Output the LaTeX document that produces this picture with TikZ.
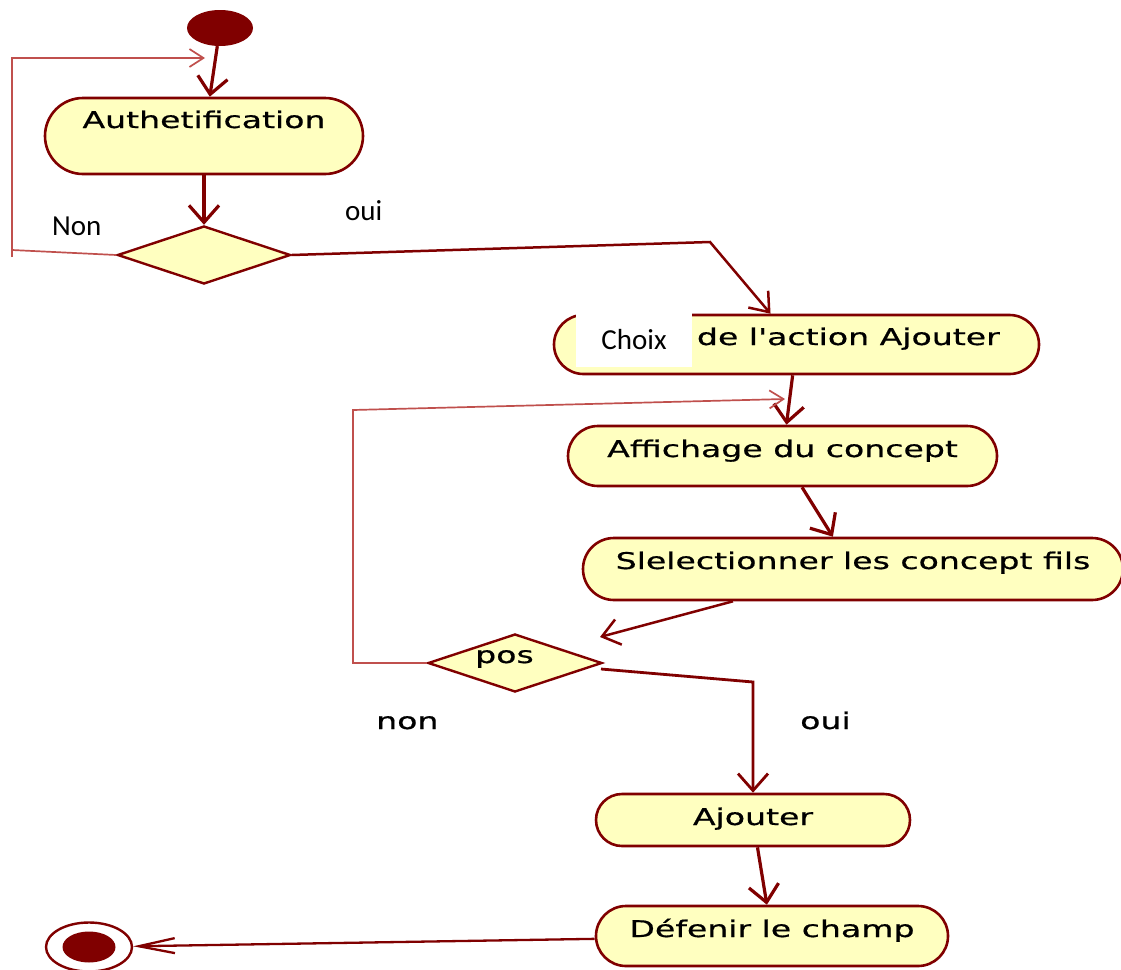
\documentclass[tikz,border=0pt]{standalone}
\usepackage{fontspec}
\usetikzlibrary{arrows.meta,shapes.geometric}
\newfontfamily\umlfont[FakeStretch=1.44,FakeBold=0.6]{DejaVu Sans}
\newfontfamily\calfont{Carlito}
\definecolor{umlred}{HTML}{800000}
\definecolor{umlfill}{HTML}{FFFFC0}
\definecolor{loopred}{HTML}{C0504D}
\tikzset{
  act/.style={rectangle, draw=umlred, line width=2.6pt, fill=umlfill, inner sep=0pt,
    text height=17pt, font={\umlfont\fontsize{23pt}{27pt}\selectfont}},
  dec/.style={diamond, draw=umlred, line width=2.4pt, fill=umlfill, inner sep=0pt},
  umltext/.style={inner sep=0pt, font={\umlfont\fontsize{23pt}{27pt}\selectfont}},
  caltext/.style={inner sep=0pt, font={\calfont\fontsize{29pt}{34pt}\selectfont}},
  mainarrow/.style={draw=umlred, line width=3.2pt, -{Straight Barb[length=17pt,width=30pt]}},
  thinarrow/.style={draw=umlred, line width=2.5pt, -{Straight Barb[length=17pt,width=26pt]}},
  endarrow/.style={draw=umlred, line width=2.3pt, -{Straight Barb[length=36pt,width=15pt]}},
  looparrow/.style={draw=loopred, line width=1.7pt, -{Straight Barb[length=14pt,width=18pt]}},
  loopline/.style={draw=loopred, line width=1.7pt},
}
\begin{document}
\begin{tikzpicture}[x=1pt,y=-1pt]
\useasboundingbox (0,0) rectangle (1121,969);

% start node
\node[ellipse, fill=umlred, minimum width=66pt, minimum height=36pt, inner sep=0pt] (start) at (220,28) {};

% activities
\node[act, minimum width=318pt, minimum height=76pt, rounded corners=38pt, text depth=33pt] (auth) at (204,136) {Authetification};
\node[dec, minimum width=173pt, minimum height=58pt] (d1) at (204,255) {};

\node[act, minimum width=485pt, minimum height=59pt, rounded corners=29.5pt, text depth=16pt] (choix) at (796.5,344.5) {\hphantom{Choix }de l'action Ajouter};
\node[rectangle, fill=white, minimum width=116pt, minimum height=54pt, inner sep=0pt, text height=19pt, text depth=0pt, font={\calfont\fontsize{29pt}{34pt}\selectfont}] (choixpatch) at (634,340) {Choix};

\node[act, minimum width=429pt, minimum height=60pt, rounded corners=30pt, text depth=15pt] (aff) at (782.5,456) {Affichage du concept};
\node[act, minimum width=540pt, minimum height=62pt, rounded corners=31pt, text depth=17pt] (sel) at (853,569) {Slelectionner les concept fils};
\node[dec, minimum width=174pt, minimum height=58pt] (pos) at (515,663) {};
\node[umltext, anchor=base west] (posl) at (475,663) {pos};

\node[act, minimum width=314pt, minimum height=52pt, rounded corners=26pt, text depth=7pt] (ajout) at (753,820) {Ajouter};
\node[act, minimum width=352pt, minimum height=60pt, rounded corners=30pt, text depth=15pt] (defin) at (772,936) {Défenir le champ};

% final node
\node[ellipse, draw=umlred, line width=2.4pt, fill=white, minimum width=86pt, minimum height=49pt, inner sep=0pt] (final) at (89,947) {};
\node[ellipse, fill=umlred, minimum width=53pt, minimum height=31pt, inner sep=0pt] (finalin) at (89,947) {};

% labels
\node[caltext, anchor=base west] (lnon1) at (52,235) {Non};
\node[caltext, anchor=base west] (loui1) at (345,220) {oui};
\node[umltext, anchor=base west] (lnon2) at (376,729) {non};
\node[umltext, anchor=base west] (loui2) at (800,729) {oui};

% coordinates for bends
\coordinate (b1) at (710,242);
\coordinate (b2) at (753,682);
\coordinate (n1) at (12,250);
\coordinate (n0) at (12,257);
\coordinate (n2) at (12,58);
\coordinate (n3) at (205,58);
\coordinate (p0) at (353,663);
\coordinate (p1) at (353,410);
\coordinate (p2) at (785,399);
\coordinate (ptip) at (600,637);
\coordinate (pe) at (601,669);

% connectors
\draw[mainarrow] (start) -- (auth);
\draw[mainarrow] (auth) -- (d1);
\draw[thinarrow] (d1.east) -- (b1) -- (choix);
\draw[loopline] (d1.west) -- (n1);
\draw[looparrow] (n0) -- (n2) -- (n3);
\draw[mainarrow] (choix) -- (aff);
\draw[mainarrow] (aff) -- (sel);
\draw[thinarrow] (sel) -- (ptip);
\draw[looparrow] (pos.west) -- (p0) -- (p1) -- (p2);
\draw[mainarrow, line width=2.8pt] (pe) -- (b2) -- (ajout);
\draw[mainarrow] (ajout) -- (defin);
\draw[endarrow] (defin) -- (final);
\end{tikzpicture}
\end{document}
